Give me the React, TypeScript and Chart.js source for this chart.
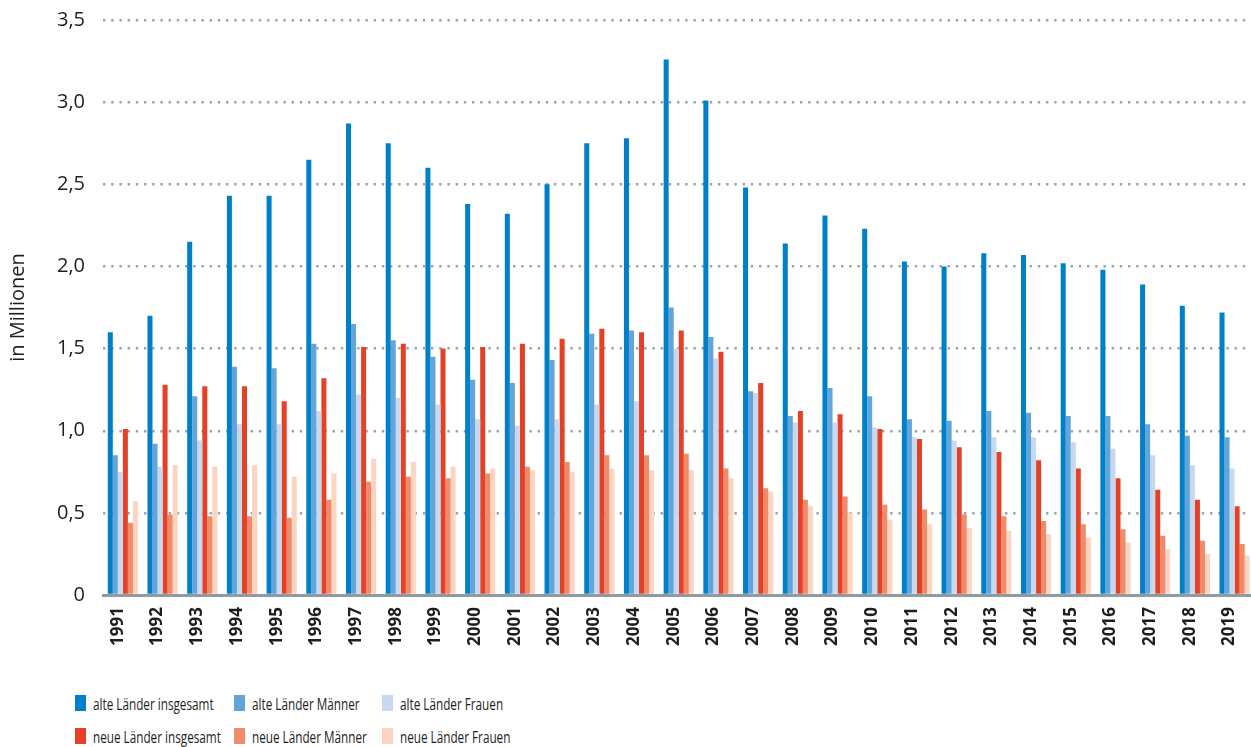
import React, { useEffect, useRef } from "react";
import { Chart, registerables } from "chart.js";

Chart.register(...registerables);

const years = [
  "1991", "1992", "1993", "1994", "1995", "1996", "1997", "1998", "1999", "2000",
  "2001", "2002", "2003", "2004", "2005", "2006", "2007", "2008", "2009", "2010",
  "2011", "2012", "2013", "2014", "2015", "2016", "2017", "2018", "2019",
];

const alteInsgesamt = [1.60, 1.70, 2.15, 2.43, 2.43, 2.65, 2.87, 2.75, 2.60, 2.38, 2.32, 2.50, 2.75, 2.78, 3.26, 3.01, 2.48, 2.14, 2.31, 2.23, 2.03, 2.00, 2.08, 2.07, 2.02, 1.98, 1.89, 1.76, 1.72];
const alteMaenner = [0.85, 0.92, 1.21, 1.39, 1.38, 1.53, 1.65, 1.55, 1.45, 1.31, 1.29, 1.43, 1.59, 1.61, 1.75, 1.57, 1.24, 1.09, 1.26, 1.21, 1.07, 1.06, 1.12, 1.11, 1.09, 1.09, 1.04, 0.97, 0.96];
const alteFrauen = [0.75, 0.78, 0.94, 1.04, 1.04, 1.12, 1.22, 1.20, 1.16, 1.07, 1.03, 1.07, 1.16, 1.18, 1.50, 1.44, 1.23, 1.05, 1.05, 1.02, 0.96, 0.94, 0.96, 0.96, 0.93, 0.89, 0.85, 0.79, 0.77];
const neueInsgesamt = [1.01, 1.28, 1.27, 1.27, 1.18, 1.32, 1.51, 1.53, 1.50, 1.51, 1.53, 1.56, 1.62, 1.60, 1.61, 1.48, 1.29, 1.12, 1.10, 1.01, 0.95, 0.90, 0.87, 0.82, 0.77, 0.71, 0.64, 0.58, 0.54];
const neueMaenner = [0.44, 0.49, 0.48, 0.48, 0.47, 0.58, 0.69, 0.72, 0.71, 0.74, 0.78, 0.81, 0.85, 0.85, 0.86, 0.77, 0.65, 0.58, 0.60, 0.55, 0.52, 0.49, 0.48, 0.45, 0.43, 0.40, 0.36, 0.33, 0.31];
const neueFrauen = [0.57, 0.79, 0.78, 0.79, 0.72, 0.74, 0.83, 0.81, 0.78, 0.77, 0.76, 0.75, 0.77, 0.76, 0.76, 0.71, 0.63, 0.54, 0.50, 0.46, 0.43, 0.41, 0.39, 0.37, 0.35, 0.32, 0.28, 0.25, 0.24];

const seriesLabels = [
  "alte Länder insgesamt",
  "alte Länder Männer",
  "alte Länder Frauen",
  "neue Länder insgesamt",
  "neue Länder Männer",
  "neue Länder Frauen",
];
const seriesColors = ["#0080c8", "#63a4da", "#c7d9ef", "#e54126", "#f08b69", "#fbd5c1"];
const seriesValues = [alteInsgesamt, alteMaenner, alteFrauen, neueInsgesamt, neueMaenner, neueFrauen];

const yTickLabels = ["0", "0,5", "1,0", "1,5", "2,0", "2,5", "3,0", "3,5"];
const yAxisTitle = "in Millionen";

const TEXT = "#1e1e1e";

export default function App() {
  const canvasRef = useRef<HTMLCanvasElement | null>(null);

  useEffect(() => {
    if (!canvasRef.current) return;
    const chart = new Chart(canvasRef.current, {
      type: "bar",
      data: {
        labels: years,
        datasets: seriesValues.map((vals, i) => ({
          label: seriesLabels[i],
          data: vals,
          backgroundColor: seriesColors[i],
          borderWidth: 0,
          categoryPercentage: 0.76,
          barPercentage: 1.0,
        })),
      },
      options: {
        responsive: false,
        animation: false,
        layout: { padding: { top: 0, right: 0, left: 0, bottom: 0 } },
        plugins: {
          legend: { display: false },
          tooltip: { enabled: false },
        },
        scales: {
          x: {
            z: 1,
            grid: { display: false, drawTicks: false },
            border: { display: true, color: "#8d9ba3", width: 3 },
            ticks: {
              autoSkip: false,
              minRotation: 90,
              maxRotation: 90,
              padding: 12,
              labelOffset: -5,
              color: TEXT,
              font: { family: "'Open Sans', sans-serif", size: 17, weight: "bold" },
            },
            afterFit: (scale: any) => {
              scale.height = 60;
            },
          },
          y: {
            min: 0,
            max: 3.5,
            ticks: {
              stepSize: 0.5,
              padding: 18,
              color: TEXT,
              font: { family: "'Open Sans', sans-serif", size: 20 },
              callback: (_v: any, idx: number) => yTickLabels[idx],
            },
            grid: {
              drawTicks: false,
              color: "#97a4ac",
              lineWidth: 2.4,
            },
            border: { display: false, dash: [2.4, 5.8] },
            title: {
              display: true,
              text: yAxisTitle,
              color: TEXT,
              font: { family: "'Open Sans', sans-serif", size: 20 },
              padding: { top: 6, bottom: 0 },
            },
            afterFit: (scale: any) => {
              scale.width = 103;
            },
          },
        },
      },
    });
    return () => chart.destroy();
  }, []);

  const legendCols = [75, 234, 382];
  const legendRows = [703, 736];

  return (
    <div
      style={{
        position: "absolute",
        left: 0,
        top: 0,
        width: 1251,
        height: 747,
        background: "#fff",
        overflow: "hidden",
      }}
    >
      <canvas
        ref={canvasRef}
        width={1267}
        height={665}
        style={{ display: "block", position: "absolute", left: 0, top: -10 }}
      />
      {seriesLabels.map((lab, i) => {
        const col = i % 3;
        const row = Math.floor(i / 3);
        return (
          <div
            key={lab}
            style={{
              position: "absolute",
              left: legendCols[col],
              top: legendRows[row] - 10,
              height: 20,
              display: "flex",
              alignItems: "center",
              whiteSpace: "nowrap",
            }}
          >
            <span
              style={{
                display: "inline-block",
                width: 11,
                height: 16,
                background: seriesColors[i],
                marginRight: 7,
              }}
            />
            <span
              style={{
                fontFamily: "'Open Sans', sans-serif",
                fontSize: 17,
                color: TEXT,
                display: "inline-block",
                transform: "scaleX(0.69)",
                transformOrigin: "left center",
              }}
            >
              {lab}
            </span>
          </div>
        );
      })}
    </div>
  );
}
